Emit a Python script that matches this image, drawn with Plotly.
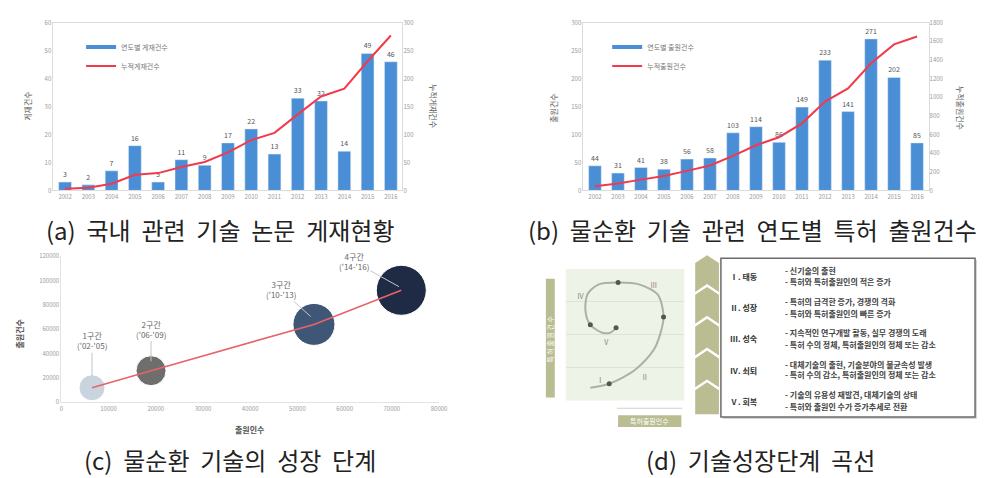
import plotly.graph_objects as go

W, H = 988, 478
def px(x): return x / W
def py(y): return 1 - y / H

FONT = "Noto Sans CJK KR"

# ---------------- data ----------------
years = [str(y) for y in range(2002, 2017)]
papers = [3, 2, 7, 16, 3, 11, 9, 17, 22, 13, 33, 32, 14, 49, 46]
papers_cum = [3, 5, 12, 28, 31, 42, 51, 68, 90, 103, 136, 168, 182, 231, 277]
patents = [44, 31, 41, 38, 56, 58, 103, 114, 86, 149, 233, 141, 271, 202, 85]
patents_cum = [44, 75, 116, 154, 210, 268, 371, 485, 571, 720, 953, 1094, 1365, 1567, 1652]

stage_names = ["1구간", "2구간", "3구간", "4구간"]
stage_periods = ["('02-'05)", "('06-'09)", "('10-'13)", "('14-'16)"]
applicants = [6500, 19000, 53500, 72000]
applications = [12000, 26000, 64000, 92000]
bubble_sizes = [26, 30, 42, 50]
bubble_colors = ["#c9d4df", "#6e6e6c", "#3f5676", "#1f2b45"]

curve_x = [20.8, 36.7, 58.3, 75.0, 82.5, 77.5, 62.5, 44.2, 27.5, 18.3, 16.7, 20.8, 30.8, 37.5, 42.5]
curve_y = [9.7, 12.7, 23.1, 39.6, 63.4, 80.6, 88.1, 89.6, 88.1, 80.6, 67.9, 57.5, 51.5, 51.5, 55.2]
dot_idx = [1, 4, 7, 11, 14]
roman = ["Ⅰ", "Ⅱ", "Ⅲ", "Ⅳ", "Ⅴ"]
roman_x = [29.2, 66.7, 74.2, 12.5, 34.2]
roman_y = [14.9, 17.2, 86.6, 78.4, 43.3]

stages = ["Ⅰ. 태동", "Ⅱ. 성장", "Ⅲ. 성숙", "Ⅳ. 쇠퇴", "Ⅴ. 회복"]
stage_desc = [
    ["- 신기술의 출현", "- 특허와 특허출원인의 적은 증가"],
    ["- 특허의 급격한 증가, 경쟁의 격화", "- 특허와 특허출원인의 빠른 증가"],
    ["- 지속적인 연구개발 활동, 실무 경쟁의 도래", "- 특허 수의 정체, 특허출원인의 정체 또는 감소"],
    ["- 대체기술의 출현, 기술분야의 불균속성 발생", "- 특허 수의 감소, 특허출원인의 정체 또는 감소"],
    ["- 기술의 유용성 재발견, 대체기술의 상태", "- 특허와 출원인 수가 증가추세로 전환"],
]

BLUE = "#4a8fd6"
RED = "#f23a4c"
TICK = dict(size=6, color="#9a9a9a", family=FONT)

fig = go.Figure()

# ---- panel (a)
fig.add_trace(go.Bar(x=years, y=papers, xaxis="x", yaxis="y", marker_color=BLUE,
                     text=[str(v) for v in papers], textposition="outside",
                     textfont=dict(size=7, color="#555", family=FONT), cliponaxis=False,
                     showlegend=False))
fig.add_trace(go.Scatter(x=years, y=papers_cum, xaxis="x", yaxis="y2", mode="lines",
                         line=dict(color=RED, width=2), showlegend=False))
fig.add_trace(go.Scatter(x=[None], y=[None], xaxis="x", yaxis="y", mode="lines",
                         line=dict(color=BLUE, width=4), name="연도별 게재건수", legend="legend"))
fig.add_trace(go.Scatter(x=[None], y=[None], xaxis="x", yaxis="y", mode="lines",
                         line=dict(color=RED, width=2), name="누적게재건수", legend="legend"))

# ---- panel (b)
fig.add_trace(go.Bar(x=years, y=patents, xaxis="x3", yaxis="y3", marker_color=BLUE,
                     text=[str(v) for v in patents], textposition="outside",
                     textfont=dict(size=7, color="#555", family=FONT), cliponaxis=False,
                     showlegend=False))
fig.add_trace(go.Scatter(x=years, y=patents_cum, xaxis="x3", yaxis="y4", mode="lines",
                         line=dict(color=RED, width=2), showlegend=False))
fig.add_trace(go.Scatter(x=[None], y=[None], xaxis="x3", yaxis="y3", mode="lines",
                         line=dict(color=BLUE, width=4), name="연도별 출원건수", legend="legend2"))
fig.add_trace(go.Scatter(x=[None], y=[None], xaxis="x3", yaxis="y3", mode="lines",
                         line=dict(color=RED, width=2), name="누적출원건수", legend="legend2"))

# ---- panel (c)
fig.add_trace(go.Scatter(x=applicants, y=applications, xaxis="x5", yaxis="y5", mode="markers",
                         marker=dict(size=bubble_sizes, color=bubble_colors, opacity=1,
                                     line=dict(color="white", width=1)),
                         showlegend=False))
fig.add_trace(go.Scatter(x=applicants, y=applications, xaxis="x5", yaxis="y5", mode="lines",
                         line=dict(color="#e8646a", width=1.6), showlegend=False))

# ---- panel (d)
fig.add_trace(go.Scatter(x=curve_x, y=curve_y, xaxis="x6", yaxis="y6", mode="lines",
                         line=dict(color="#a9b2a4", width=2, shape="spline", smoothing=0.8),
                         showlegend=False))
fig.add_trace(go.Scatter(x=[curve_x[i] for i in dot_idx], y=[curve_y[i] for i in dot_idx],
                         xaxis="x6", yaxis="y6", mode="markers",
                         marker=dict(size=5, color="#555"), showlegend=False))
fig.add_trace(go.Scatter(x=roman_x, y=roman_y, xaxis="x6", yaxis="y6", mode="text",
                         text=roman, textfont=dict(size=7, color="#888", family=FONT),
                         showlegend=False))

ax_common = dict(showgrid=False, zeroline=False, tickfont=TICK, ticks="")
box = dict(showline=True, linecolor="#dcdcdc", linewidth=1)

fig.update_layout(
    width=W, height=H, margin=dict(l=0, r=0, t=0, b=0),
    paper_bgcolor="white", plot_bgcolor="white", bargap=0.45,
    font=dict(family=FONT),
    xaxis=dict(domain=[px(52), px(405)], anchor="y", type="category", mirror=True, **box, **ax_common),
    yaxis=dict(domain=[py(189), py(18)], anchor="x", range=[0, 60], dtick=10, mirror=True, **box, **ax_common),
    yaxis2=dict(overlaying="y", side="right", anchor="x", range=[0, 300], dtick=50, **ax_common),
    xaxis3=dict(domain=[px(588), px(937)], anchor="y3", type="category", mirror=True, **box, **ax_common),
    yaxis3=dict(domain=[py(189), py(18)], anchor="x3", range=[0, 300], dtick=50, mirror=True, **box, **ax_common),
    yaxis4=dict(overlaying="y3", side="right", anchor="x3", range=[0, 1800], dtick=200, **ax_common),
    xaxis5=dict(domain=[px(60), px(442)], anchor="y5", range=[0, 80000], dtick=10000, tickformat="d",
                showline=True, linecolor="#e3e3e3", **ax_common),
    yaxis5=dict(domain=[py(405), py(256)], anchor="x5", range=[0, 120000], dtick=20000, tickformat="d",
                showline=True, linecolor="#e3e3e3", **ax_common),
    xaxis6=dict(domain=[px(570), px(690)], anchor="y6", range=[0, 100], visible=False),
    yaxis6=dict(domain=[py(403), py(269)], anchor="x6", range=[0, 100], dtick=25,
                showgrid=True, gridcolor="#dde5d2", showticklabels=False, zeroline=False, ticks=""),
    legend=dict(x=px(80), y=py(28), xanchor="left", yanchor="top", bgcolor="rgba(0,0,0,0)",
                font=dict(size=7, color="#777", family=FONT), itemwidth=30, tracegroupgap=0),
    legend2=dict(x=px(612), y=py(28), xanchor="left", yanchor="top", bgcolor="rgba(0,0,0,0)",
                 font=dict(size=7, color="#777", family=FONT), itemwidth=30, tracegroupgap=0),
)

ann = []
def note(x, y, text, size, color, angle=0, xanchor="center"):
    ann.append(dict(x=px(x), y=py(y), xref="paper", yref="paper", text=text, showarrow=False,
                    textangle=angle, xanchor=xanchor, yanchor="middle",
                    font=dict(size=size, color=color, family=FONT)))

note(25, 103, "게재건수", 8, "#555", -90)
note(437, 103, "누적게재건수", 8, "#555", 90)
note(557, 105, "출원건수", 8, "#555", -90)
note(970, 105, "누적출원건수", 8, "#555", 90)
note(18, 335, "<b>출원건수</b>", 8, "#555", -90)
note(251, 433, "<b>출원인수</b>", 8, "#555")

# stage labels (c)
offsets = [(0, -36), (0, -32), (-30, -27), (-45, -25)]
targets_y = [21000, 33800, 70500, 95000]
targets_x = [6500, 19000, 52800, 71500]
for i in range(4):
    ann.append(dict(x=targets_x[i], y=targets_y[i], xref="x5", yref="y5",
                    text=stage_names[i] + "<br>" + stage_periods[i], showarrow=True,
                    arrowhead=0, arrowwidth=1, arrowcolor="#c4c4c4", ax=offsets[i][0], ay=offsets[i][1],
                    font=dict(size=8, color="#666", family=FONT)))

# captions
note(220, 229, "(a)  국내  관련  기술  논문  게재현황", 24, "#222")
note(530, 229, "(b)  물순환  기술  관련  연도별  특허  출원건수", 24, "#222", xanchor="left")
note(231, 463, "(c)  물순환  기술의  성장  단계", 24, "#222")
note(767, 463, "(d)  기술성장단계  곡선", 24, "#222")

# panel (d) text box
stage_y = [277, 308, 340, 373, 404]
desc_y = [(271, 282), (302, 314), (334, 346), (366, 377), (397, 409)]
for i in range(5):
    note(734, stage_y[i], "<b>" + stages[i] + "</b>", 8, "#333", xanchor="left")
    for j in range(2):
        note(790, desc_y[i][j], "<b>" + stage_desc[i][j] + "</b>", 8, "#444", xanchor="left")
note(554, 340, "특 허 출 원 건 수", 7, "white", -90)
note(655, 424, "특허출원인수", 7, "white")
fig.update_layout(annotations=ann)

shapes = []
OLIVE = "#b9bd91"
# green plot background
shapes.append(dict(type="rect", xref="paper", yref="paper", x0=px(570), x1=px(690), y0=py(403), y1=py(269),
                   fillcolor="#eef3e7", line=dict(width=0), layer="below"))
shapes.append(dict(type="rect", xref="paper", yref="paper", x0=px(550), x1=px(559), y0=py(400), y1=py(279),
                   fillcolor=OLIVE, line=dict(width=0)))
shapes.append(dict(type="rect", xref="paper", yref="paper", x0=px(623), x1=px(687), y0=py(430), y1=py(418),
                   fillcolor=OLIVE, line=dict(width=0)))
shapes.append(dict(type="line", xref="paper", yref="paper", x0=px(622), x1=px(688), y0=py(411), y1=py(411),
                   line=dict(color="#cfcfcf", width=1)))
# chevrons
top, bottom, n = 255, 417, 5
step = (bottom - top) / n
for i in range(n):
    t = top + i * step
    b = t + step
    pts = [(701, t + 8), (713, t), (725, t + 8)]
    if i < n - 1:
        pts += [(725, b + 5), (713, b - 3), (701, b + 5)]
    else:
        pts += [(725, bottom), (701, bottom)]
    path = "M " + " L ".join(f"{px(a):.5f},{py(c):.5f}" for a, c in pts) + " Z"
    shapes.append(dict(type="path", xref="paper", yref="paper", path=path, fillcolor=OLIVE,
                       line=dict(width=0)))
# text box with shadow
shapes.append(dict(type="rect", xref="paper", yref="paper", x0=px(729), x1=px(986), y0=py(422), y1=py(260),
                   fillcolor="#d5d5d5", line=dict(width=0)))
shapes.append(dict(type="rect", xref="paper", yref="paper", x0=px(727), x1=px(984), y0=py(420), y1=py(258),
                   fillcolor="white", line=dict(color="#6b6b6b", width=1.5)))
fig.update_layout(shapes=shapes)

fig.write_html("out.html")
